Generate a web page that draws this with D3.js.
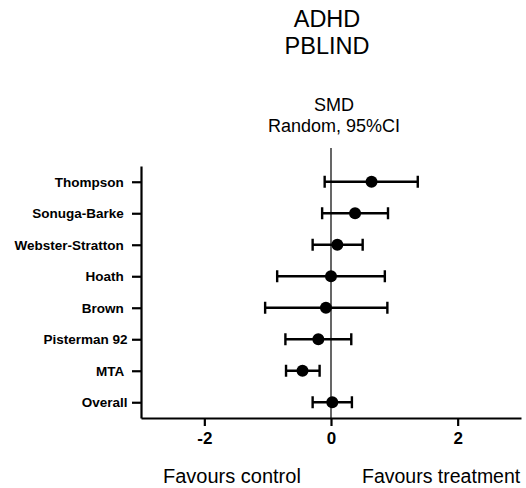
<!DOCTYPE html>
<html>
<head>
<meta charset="utf-8">
<script src="https://cdn.jsdelivr.net/npm/d3@7"></script>
<style>
  body { margin: 0; background: #fff; }
  text { font-family: "Liberation Sans", Arial, sans-serif; fill: #000; }
</style>
</head>
<body>
<div id="container"></div>
<script>
/* DATA */
// trailing spaces are part of the original labels
const studies = ["Thompson ", "Sonuga-Barke ", "Webster-Stratton ", "Hoath ", "Brown ", "Pisterman 92", "MTA ", "Overall"];
const smd = [0.64, 0.38, 0.10, 0.00, -0.08, -0.20, -0.45, 0.02];
const ciLow = [-0.10, -0.14, -0.29, -0.85, -1.04, -0.72, -0.71, -0.29];
const ciHigh = [1.37, 0.90, 0.50, 0.85, 0.89, 0.32, -0.18, 0.33];
const xTicks = [-2, 0, 2];
const xDomain = [-3, 3];

const data = studies.map((s, i) => ({ study: s, smd: smd[i], lo: ciLow[i], hi: ciHigh[i] }));

/* CONSTANTS */
const width = 526;
const height = 488;
const plotLeft = 141, plotRight = 521, plotTop = 166, plotBottom = 418;

/* SCALES */
const xScale = d3.scaleLinear().domain(xDomain).range([plotLeft, plotRight]);
const yScale = d3.scalePoint().domain(studies).range([plotTop, plotBottom]).padding(0.5);

const svg = d3.select("#container")
  .append("svg")
  .attr("width", width)
  .attr("height", height);

// titles
svg.append("text").attr("x", 327).attr("y", 27).attr("text-anchor", "middle")
  .style("font-size", "23.5px").text("ADHD");
svg.append("text").attr("x", 327).attr("y", 54).attr("text-anchor", "middle")
  .style("font-size", "23.5px").text("PBLIND");
svg.append("text").attr("x", 334).attr("y", 111).attr("text-anchor", "middle")
  .style("font-size", "18px").text("SMD");
svg.append("text").attr("x", 334).attr("y", 132).attr("text-anchor", "middle")
  .style("font-size", "18px").text("Random, 95%CI");

// zero reference line
svg.append("line")
  .attr("x1", xScale(0)).attr("x2", xScale(0))
  .attr("y1", 148).attr("y2", plotBottom)
  .attr("stroke", "#000").attr("stroke-width", 1.2);

// x axis
const xAxis = d3.axisBottom(xScale).tickValues(xTicks).tickFormat(d => String(d))
  .tickSize(8).tickPadding(6).tickSizeOuter(0);
const gx = svg.append("g")
  .attr("transform", `translate(0,${plotBottom})`)
  .call(xAxis);
gx.select(".domain").attr("stroke-width", 2.2);
gx.selectAll(".tick line").attr("stroke-width", 2.2);
gx.selectAll(".tick text")
  .style("font-family", "'Liberation Sans', Arial, sans-serif")
  .style("font-size", "17px").style("font-weight", "bold").attr("fill", "#000");

// y axis
const yAxis = d3.axisLeft(yScale).tickSize(9).tickPadding(4.5).tickSizeOuter(0);
const gy = svg.append("g")
  .attr("transform", `translate(${plotLeft},0)`)
  .call(yAxis);
gy.select(".domain").attr("stroke-width", 2.2);
gy.selectAll(".tick line").attr("stroke-width", 2.2);
gy.selectAll(".tick text")
  .style("font-family", "'Liberation Sans', Arial, sans-serif")
  .style("font-size", "13.5px").style("font-weight", "bold")
  .style("white-space", "pre").attr("fill", "#000");

// confidence intervals
const cap = 6;
const rows = svg.append("g").selectAll("g")
  .data(data)
  .join("g")
  .attr("stroke", "#000")
  .attr("stroke-width", 2.4);

rows.append("line")
  .attr("x1", d => xScale(d.lo)).attr("x2", d => xScale(d.hi))
  .attr("y1", d => yScale(d.study)).attr("y2", d => yScale(d.study));
rows.append("line")
  .attr("x1", d => xScale(d.lo)).attr("x2", d => xScale(d.lo))
  .attr("y1", d => yScale(d.study) - cap).attr("y2", d => yScale(d.study) + cap);
rows.append("line")
  .attr("x1", d => xScale(d.hi)).attr("x2", d => xScale(d.hi))
  .attr("y1", d => yScale(d.study) - cap).attr("y2", d => yScale(d.study) + cap);

// point estimates
svg.selectAll("circle")
  .data(data)
  .join("circle")
  .attr("cx", d => xScale(d.smd))
  .attr("cy", d => yScale(d.study))
  .attr("r", 6)
  .attr("fill", "#000");

// favours labels
svg.append("text").attr("x", 163).attr("y", 483)
  .style("font-size", "20px").text("Favours control");
svg.append("text").attr("x", 362).attr("y", 483)
  .style("font-size", "19.5px").text("Favours treatment");
</script>
</body>
</html>
